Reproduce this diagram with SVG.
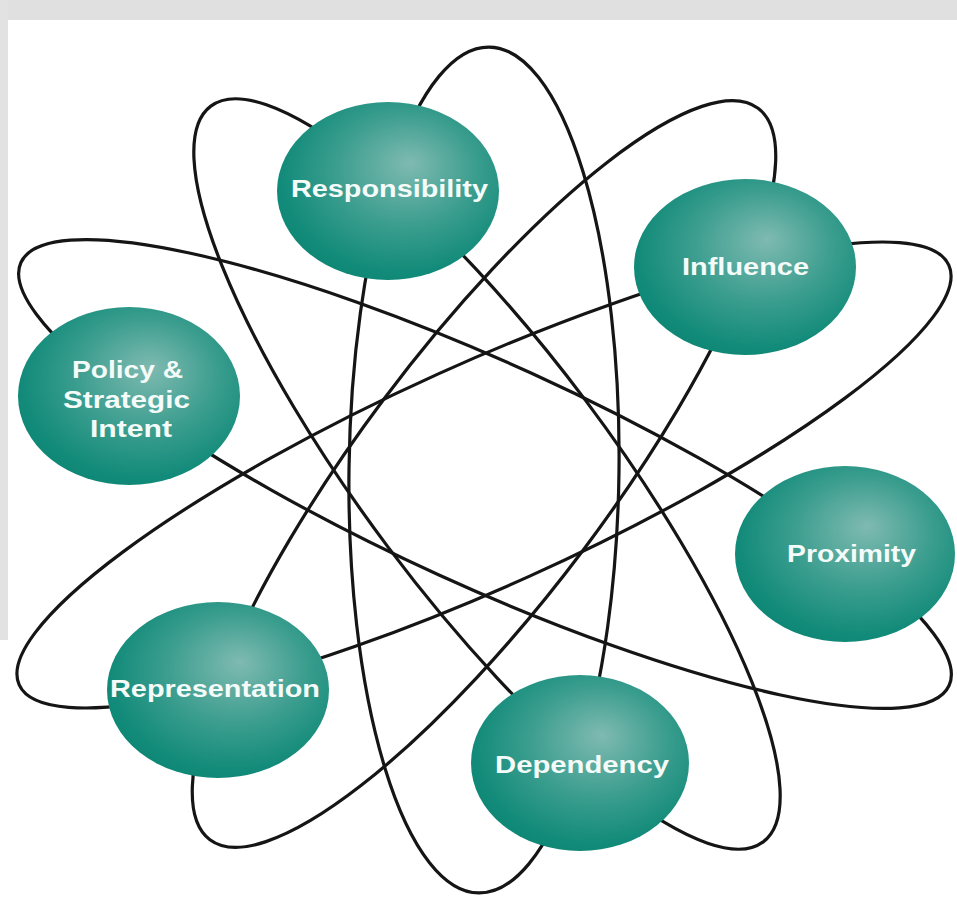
<svg xmlns="http://www.w3.org/2000/svg" width="957" height="902" viewBox="0 0 957 902">
  <defs>
    <radialGradient id="teal" cx="0.56" cy="0.42" r="0.62" fx="0.6" fy="0.34">
      <stop offset="0" stop-color="#7fbab1"/>
      <stop offset="0.5" stop-color="#3c9e8f"/>
      <stop offset="0.88" stop-color="#138b7a"/>
      <stop offset="1" stop-color="#0e8674"/>
    </radialGradient>
    <style>
      .orbit { fill: none; stroke: #151515; stroke-width: 3.2; }
      .node { fill: url(#teal); }
      .label { font-family: "Liberation Sans", Arial, sans-serif; font-weight: bold; font-size: 23px; fill: #f4fbf9; }
    </style>
  </defs>
  <rect x="0" y="0" width="957" height="902" fill="#ffffff"/>
  <rect x="0" y="0" width="957" height="20" fill="#e0e0e0"/>
  <rect x="0" y="0" width="8" height="640" fill="#e2e2e2"/>

  <g id="connectors">
    <ellipse class="orbit" cx="484" cy="470" rx="135" ry="423" transform="rotate(0.7 484 470)"/>
    <ellipse class="orbit" cx="487" cy="474" rx="460" ry="123" transform="rotate(53.1 487 474)"/>
    <ellipse class="orbit" cx="484" cy="474" rx="457" ry="125" transform="rotate(-53.15 484 474)"/>
    <ellipse class="orbit" cx="485" cy="474" rx="510" ry="111" transform="rotate(24.5 485 474)"/>
    <ellipse class="orbit" cx="484" cy="475" rx="510" ry="111" transform="rotate(-24.3 484 475)"/>
  </g>

  <g id="responsibility">
    <ellipse class="node" cx="388" cy="191" rx="111" ry="89"/>
    <text class="label" x="291" y="197" textLength="197" lengthAdjust="spacingAndGlyphs">Responsibility</text>
  </g>
  <g id="influence">
    <ellipse class="node" cx="745" cy="267" rx="111" ry="88"/>
    <text class="label" x="682" y="275" textLength="127" lengthAdjust="spacingAndGlyphs">Influence</text>
  </g>
  <g id="policy">
    <ellipse class="node" cx="129" cy="396" rx="111" ry="89"/>
    <text class="label" x="72" y="378" textLength="111" lengthAdjust="spacingAndGlyphs">Policy &amp;</text>
    <text class="label" x="63" y="408" textLength="127" lengthAdjust="spacingAndGlyphs">Strategic</text>
    <text class="label" x="90" y="437" textLength="82" lengthAdjust="spacingAndGlyphs">Intent</text>
  </g>
  <g id="proximity">
    <ellipse class="node" cx="845" cy="554" rx="110" ry="88"/>
    <text class="label" x="787" y="562" textLength="129" lengthAdjust="spacingAndGlyphs">Proximity</text>
  </g>
  <g id="representation">
    <ellipse class="node" cx="218" cy="690" rx="111" ry="88"/>
    <text class="label" x="110" y="697" textLength="210" lengthAdjust="spacingAndGlyphs">Representation</text>
  </g>
  <g id="dependency">
    <ellipse class="node" cx="580" cy="763" rx="109" ry="88"/>
    <text class="label" x="495" y="773" textLength="174" lengthAdjust="spacingAndGlyphs">Dependency</text>
  </g>
</svg>
